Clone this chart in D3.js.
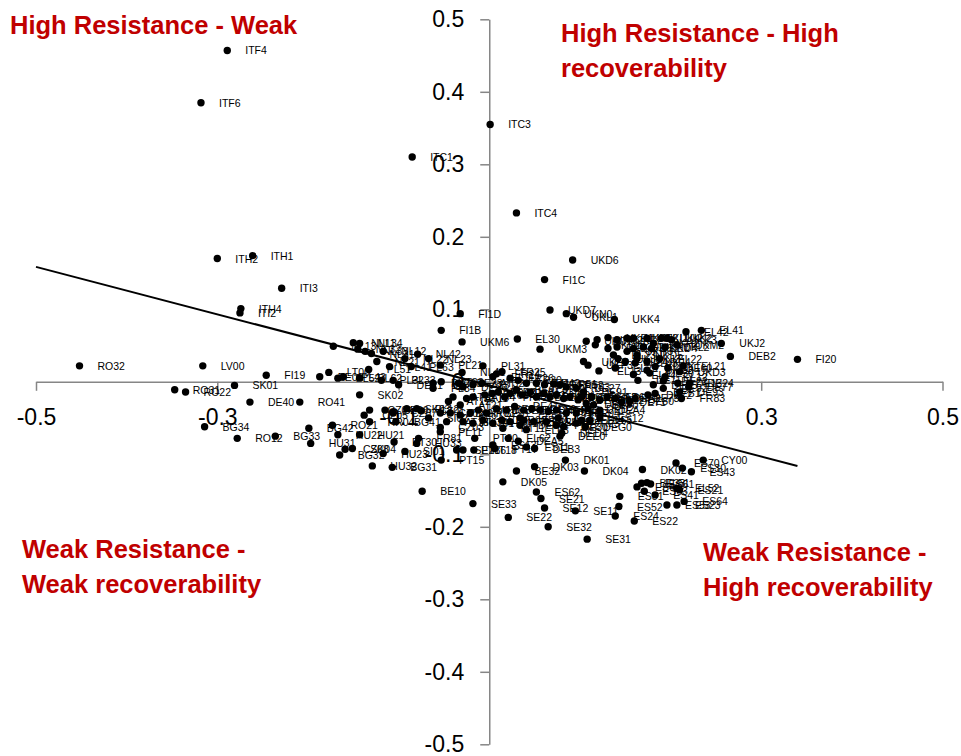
<!DOCTYPE html>
<html>
<head>
<meta charset="utf-8">
<script src="https://cdn.jsdelivr.net/npm/d3@7"></script>
<style>
  body { margin: 0; background: #fff; }
  svg { display: block; }
  text { font-family: "Liberation Sans", Arial, sans-serif; }
</style>
</head>
<body>
<svg id="chart" width="961" height="756"></svg>
<script>
// NUTS2 regions: recoverability (x) vs resistance (y)
const regionCodes = [
  'ITF4','ITF6','ITC1','ITH2','ITH1','ITI3','ITH4','ITI2','ITC3','ITC4',
  'UKD6','FI1C','UKD7','UKN0','UKL1','UKK4','FI1D','FI1B','UKM6','EL30',
  'UKM3','EL42','EL41','UKJ2','DEB2','FI20','RO32','LV00','FI19','RO31',
  'RO22','SK01','DE40','RO41','BG34','RO12','BG33','BG42','HU31','RO21',
  'HU22','HU21','CZ08','SK04','BG32','HU23','HU32','BG31','PT30','SI01',
  'FR81','HU33','PL11','AT13','CZ02','SE23','PT16','PT15','BE10','SE33',
  'DK05','SE22','PT20','PT18','ES13','PT11','CZ05','CZ04','CZ06','CZ07',
  'SK03','PL12','CZ01','SI02','BG41','SK02','AT22','AT21','AT12','LT00',
  'NL13','NL11','NL34','NL32','NL33','NL31','NL12','NL42','NL22','NL23',
  'NL21','PL41','PL63','PL21','PL31','NL41','PL51','EE00','PL52','PL43',
  'PL62','PL32','PL33','DE21','PL22','PL34','DE23','DE26','AT31','AT32',
  'HR04','CZ03','UKC1','UKC2','UKE1','UKE2','UKF1','UKF2','UKE4','UKG1',
  'UKG2','UKH1','UKH2','EL23','UKH3','UKJ1','EL24','UKJ3','UKJ4','UKE3',
  'UKF3','EL13','EL25','EL14','UKG3','UKK1','DE25','EL11','DE27','DE14',
  'DE12','DE71','DE94','DED4','DEG0','UKK2','UKK3','EL21','UKD3','EL12',
  'DE22','DE24','DE77','DE93','FR83','DEB1','DE72','UKI1','UKI2','UKD1',
  'UKD4','UKL2','UKM2','UKD5','EL22','EL43','DE60','DE50','DE11','DE13',
  'DE92','DE91','DEA3','FR62','DE73','DEE0','DK01','DEA5','DEB3','ES11',
  'PT17','DEA2','DE80','DEF0','DED2','FR10','FR21','FR22','DE30','FR23',
  'DK03','BE32','DK04','DK02','ES62','SE21','SE12','SE11','SE32','SE31',
  'ES51','ES52','ES24','ES22','ES42','BE33','EL51','ES61','ES63','ES41',
  'ES53','ES70','ES30','ES43','CY00','ES21','EL52','ES64','ES23','AT33',
  'FR24','FR25','FR26','FR30','FR41','FR42','FR43','FR51','FR52','FR53',
  'AT11','AT34','FR61','FR63','FR71','FR72','FR82','BE21','BE22','BE23',
  'BE24','BE25','LU00','IE01','IE02','DEA1','DEC0','DED5','DEA4','PL42',
  'PL61','HR03','MT00','BE31','BE34','BE35','DE41','DE42','DE50X','DK04X',
  'FR91','FR92','FR93','FR94','HU34','LT01','LT02','HR01','HR02','HR05',
  'EL53','EL54','EL61','EL62','EL63','EL64','EL65','ES12'
];

const recoverability = [
  -0.289,-0.318,-0.085,-0.300,-0.261,-0.229,-0.274,-0.275, 0.001, 0.030,
   0.092, 0.061, 0.067, 0.085, 0.093, 0.138,-0.032,-0.053,-0.030, 0.031,
   0.056, 0.217, 0.234, 0.256, 0.266, 0.340,-0.452,-0.316,-0.246,-0.347,
  -0.335,-0.281,-0.264,-0.209,-0.314,-0.278,-0.236,-0.199,-0.197,-0.173,
  -0.167,-0.143,-0.159,-0.151,-0.165,-0.117,-0.129,-0.107,-0.105,-0.093,
  -0.078,-0.080,-0.054,-0.047,-0.054,-0.036,-0.029,-0.053,-0.074,-0.018,
   0.015, 0.021,-0.016,-0.017, 0.004, 0.015,-0.138,-0.132,-0.115,-0.106,
  -0.091,-0.080,-0.075,-0.067,-0.103,-0.143,-0.040,-0.032,-0.045,-0.177,
  -0.172,-0.150,-0.143,-0.145,-0.137,-0.130,-0.117,-0.079,-0.093,-0.067,
  -0.124,-0.110,-0.086,-0.054,-0.007,-0.030,-0.133,-0.187,-0.167,-0.161,
  -0.143,-0.119,-0.106,-0.100,-0.062,-0.062,-0.034,-0.029,-0.018,-0.008,
  -0.132,-0.054, 0.107, 0.119, 0.131, 0.141, 0.152, 0.159, 0.131, 0.141,
   0.159, 0.170, 0.181, 0.137, 0.152, 0.142, 0.150, 0.163, 0.174, 0.104,
   0.109, 0.121, 0.139, 0.159, 0.174, 0.183, 0.181, 0.004, 0.096, 0.102,
   0.122, 0.146, 0.034, 0.080, 0.106, 0.196, 0.201, 0.214, 0.210, 0.194,
   0.192, 0.221, 0.220, 0.210, 0.212, 0.183, 0.175, 0.174, 0.190, 0.117,
   0.179, 0.194, 0.207, 0.163, 0.188, 0.161, 0.197, 0.177, 0.164, 0.208,
   0.192, 0.104, 0.113, 0.130, 0.161, 0.078, 0.084, 0.032, 0.050, 0.041,
   0.006, 0.139, 0.155, 0.115, 0.109, 0.038, 0.049, 0.074, 0.082, 0.096,
   0.050, 0.030, 0.105, 0.169, 0.052, 0.057, 0.061, 0.095, 0.065, 0.108,
   0.144, 0.143, 0.139, 0.160, 0.163, 0.168, 0.174, 0.178, 0.171, 0.183,
   0.196, 0.206, 0.213, 0.223, 0.236, 0.210, 0.207, 0.215, 0.207,-0.053,
   0.008, 0.014, 0.023, 0.032, 0.041, 0.052, 0.061, 0.071, 0.078, 0.085,
  -0.025,-0.018,-0.005, 0.003, 0.010, 0.017, 0.023, 0.030, 0.036, 0.045,
   0.052, 0.060, 0.067, 0.074, 0.082, 0.089, 0.098, 0.107, 0.122,-0.043,
  -0.032,-0.021,-0.012,-0.003, 0.008, 0.019, 0.028, 0.038, 0.047, 0.056,
   0.065, 0.074, 0.085, 0.096,-0.029,-0.018,-0.007, 0.004, 0.014, 0.023,
   0.034, 0.063, 0.076, 0.021, 0.041, 0.102, 0.111, 0.122
];

const resistance = [
   0.457, 0.385, 0.310, 0.170, 0.174, 0.129, 0.101, 0.095, 0.355, 0.233,
   0.168, 0.141, 0.099, 0.094, 0.089, 0.086, 0.094, 0.071, 0.055, 0.059,
   0.045, 0.069, 0.071, 0.053, 0.035, 0.031, 0.022, 0.022, 0.009,-0.011,
  -0.014,-0.005,-0.028,-0.028,-0.062,-0.078,-0.075,-0.064,-0.085,-0.060,
  -0.073,-0.073,-0.093,-0.092,-0.101,-0.099,-0.116,-0.118,-0.083,-0.096,
  -0.078,-0.085,-0.069,-0.055,-0.043,-0.094,-0.094,-0.108,-0.151,-0.168,
  -0.138,-0.187,-0.078,-0.094,-0.087,-0.064,-0.046,-0.039,-0.039,-0.043,
  -0.037,-0.037,-0.040,-0.050,-0.055,-0.018,-0.021,-0.032,-0.027, 0.013,
   0.049, 0.054, 0.053, 0.045, 0.042, 0.039, 0.042, 0.038, 0.032, 0.032,
   0.028, 0.021, 0.021, 0.023, 0.022, 0.013, 0.017, 0.007, 0.005, 0.007,
   0.005, 0.002, 0.002,-0.004,-0.002,-0.009,-0.002,-0.007,-0.004,-0.002,
  -0.055,-0.063, 0.056, 0.058, 0.061, 0.058, 0.060, 0.060, 0.046, 0.048,
   0.046, 0.048, 0.053, 0.037, 0.042, 0.032, 0.028, 0.032, 0.028, 0.028,
   0.023, 0.015, 0.019, 0.010, 0.016, 0.021,-0.004, 0.007,-0.009,-0.021,
  -0.025,-0.028,-0.060,-0.071,-0.062, 0.060, 0.058, 0.022, 0.014, 0.007,
   0.001,-0.002,-0.007,-0.014,-0.023,-0.016,-0.018, 0.060, 0.060, 0.051,
   0.046, 0.048, 0.051, 0.037, 0.032, 0.026, 0.019, 0.012, 0.002,-0.002,
  -0.009,-0.014,-0.021,-0.021,-0.023,-0.075,-0.108,-0.082,-0.092,-0.090,
  -0.092,-0.023,-0.027,-0.032,-0.037,-0.053,-0.055,-0.060,-0.062,-0.057,
  -0.117,-0.123,-0.123,-0.121,-0.152,-0.161,-0.174,-0.178,-0.200,-0.217,
  -0.158,-0.172,-0.185,-0.192,-0.145,-0.140,-0.139,-0.141,-0.151,-0.156,
  -0.170,-0.112,-0.119,-0.124,-0.108,-0.149,-0.147,-0.165,-0.170, 0.000,
   0.011, 0.014, 0.005, 0.002,-0.002,-0.002,-0.004,-0.003,-0.004,-0.007,
  -0.023,-0.021,-0.018,-0.016,-0.014,-0.021,-0.016,-0.011,-0.018,-0.014,
  -0.021,-0.016,-0.021,-0.018,-0.023,-0.021,-0.025,-0.030,-0.039,-0.043,
  -0.046,-0.043,-0.039,-0.043,-0.037,-0.039,-0.034,-0.039,-0.037,-0.039,
  -0.041,-0.039,-0.043,-0.043,-0.055,-0.057,-0.053,-0.057,-0.053,-0.055,
  -0.050,-0.055,-0.050,-0.078,-0.066, -0.053,-0.053,-0.050
];

const xTickValues = [-0.5, -0.3, -0.1, 0.1, 0.3, 0.5];
const yTickValues = [0.5, 0.4, 0.3, 0.2, 0.1, 0, -0.1, -0.2, -0.3, -0.4, -0.5];

// linear trend fitted in the source sheet
const trendSlope = -0.327;
const trendIntercept = -0.005;

const quadrantLines = [
  ['High Resistance - Weak'],
  ['High Resistance - High', 'recoverability'],
  ['Weak Resistance -', 'Weak recoverability'],
  ['Weak Resistance -', 'High recoverability']
];

const svg = d3.select('#chart');
const x = d3.scaleLinear().domain([-0.5, 0.5]).range([36, 942.5]);
const y = d3.scaleLinear().domain([-0.5, 0.5]).range([744.3, 19.3]);

const axisColor = '#868686';

// x axis through y = 0
const gx = svg.append('g')
    .attr('transform', `translate(0,${y(0)})`)
    .call(d3.axisBottom(x).tickValues(xTickValues).tickSize(9).tickSizeOuter(0)
        .tickPadding(18).tickFormat(d => String(d)));

// y axis through x = 0
const gy = svg.append('g')
    .attr('transform', `translate(${x(0)},0)`)
    .call(d3.axisLeft(y).tickValues(yTickValues).tickSize(9).tickSizeOuter(0)
        .tickPadding(16).tickFormat(d => String(d)));

[gx, gy].forEach(g => {
    g.select('.domain').attr('stroke', axisColor).attr('stroke-width', 1.5);
    g.selectAll('.tick line').attr('stroke', axisColor).attr('stroke-width', 1.5);
    g.selectAll('.tick text').attr('fill', '#000').style('font-size', '23px')
        .style('font-family', '"Liberation Sans", Arial, sans-serif');
});

// trend line
const xMax = d3.max(recoverability);
svg.append('line')
    .attr('x1', x(-0.5)).attr('y1', y(trendIntercept + trendSlope * -0.5))
    .attr('x2', x(xMax)).attr('y2', y(trendIntercept + trendSlope * xMax))
    .attr('stroke', '#000').attr('stroke-width', 2);

const pts = regionCodes.map((c, i) => ({code: c, rx: recoverability[i], ry: resistance[i]}));

svg.append('g').selectAll('circle')
    .data(pts)
    .join('circle')
    .attr('cx', d => x(d.rx))
    .attr('cy', d => y(d.ry))
    .attr('r', 3.7)
    .attr('fill', '#000');

svg.append('g').selectAll('text')
    .data(pts)
    .join('text')
    .attr('x', d => x(d.rx) + 18)
    .attr('y', d => y(d.ry) + 4)
    .style('font-size', '10.5px')
    .attr('fill', '#000')
    .text(d => d.code.replace(/X$/, ''));

// quadrant captions
const titlePos = [[10, 34], [561, 42], [22, 558], [703, 561]];
quadrantLines.forEach((lines, i) => {
    const t = svg.append('text')
        .attr('x', titlePos[i][0]).attr('y', titlePos[i][1])
        .attr('fill', '#C00000')
        .style('font-size', '25.5px').style('font-weight', 'bold');
    lines.forEach((s, j) => {
        t.append('tspan').attr('x', titlePos[i][0]).attr('dy', j ? 35 : 0).text(s);
    });
});
</script>
</body>
</html>
